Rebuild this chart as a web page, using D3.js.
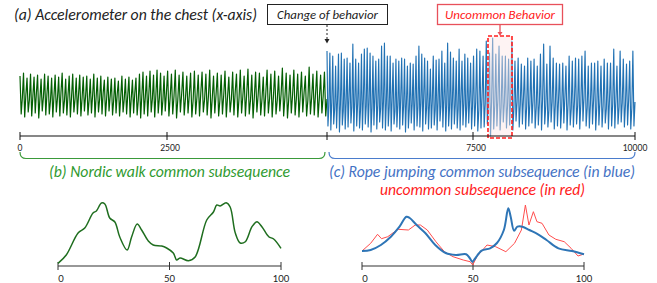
<!DOCTYPE html>
<html><head><meta charset="utf-8">
<script src="https://cdn.jsdelivr.net/npm/d3@7"></script>
<style>body{margin:0;background:#fff}svg{display:block}</style>
</head><body>
<svg id="c" width="657" height="283"></svg>
<script>
// ---------- DATA ----------
const topTicks = [0, 2500, 5000, 7500, 10000];
const topTickLabels = ["0", "2500", "", "7500", "10000"];
const subTicks = [0, 50, 100];

// Nordic walk (green) signal: per cycle peak / trough / middle value
const nordicPeaks = [
60,63,58,62,59,61,57,62,60,58,61,59,
63,57,60,62,58,61,59,60,57,62,58,60,
56,59,57,58,55,60,57,59,56,58,62,64,
60,65,61,66,63,60,65,62,66,61,64,60,
63,65,61,64,62,66,60,63,61,65,59,64,
62,66,60,67,61,64,63,59,66,62,65,60,
68,63,61,66,62,64,60,69,62,65,61,64];
const nordicTroughs = [
22,19,24,20,23,18,25,21,22,19,24,20,
23,21,19,24,22,20,25,21,23,19,24,22,
20,25,21,23,20,24,22,19,23,21,18,22,
20,24,19,23,21,25,20,22,18,24,21,23,
19,22,20,24,21,18,23,20,22,19,24,21,
19,23,20,22,18,24,21,20,23,19,22,25,
20,18,23,21,19,24,20,22,21,19,23,20];
const nordicMids = [
38,41,36,40,43,37,39,42,35,40,38,44,
36,41,39,37,42,38,40,36,41,39,37,43,
38,40,36,42,39,37,41,38,43,36,40,39,
42,37,41,38,36,43,39,40,37,42,38,41,
36,39,43,37,40,38,42,36,41,39,37,44,
38,40,42,36,39,41,37,43,38,40,36,42,
39,37,41,38,40,43,36,39,42,38,40,37];

// Rope jumping (blue) signal: per cycle peak / trough / middle value
const ropePeaks = [
85,83,80,70,82,83,77,78,73,92,77,73,82,87,88,83,80,75,77,90,93,80,80,73,
77,75,78,77,70,73,72,80,90,82,78,75,67,80,76,77,85,73,93,84,78,75,87,
75,82,78,73,80,87,85,80,95,83,98,82,90,80,80,77,95,75,78,72,70,78,75,77,70,
82,92,72,90,78,73,72,73,70,80,75,78,77,80,85,70,73,73,75,70,77,73,73,87,70,
85,77,72,75,85];
const ropeTroughs = [
10,6,12,8,4,11,7,9,13,5,
10,8,6,12,9,4,11,7,14,8,
6,10,5,12,9,7,11,4,8,13,
6,10,9,5,12,7,8,11,6,15,
9,5,10,7,12,8,6,11,9,13,
7,10,5,8,9,12,0,7,10,6,
14,8,11,6,15,9,12,7,10,13,
8,11,6,12,9,14,7,10,8,13,
6,11,9,12,7,15,10,8,12,6,
11,9,13,7,10,8,12,14,9,11,
7,10];
const ropeMids = [
30,34,27,36,31,25,33,38,29,35,
32,26,37,30,34,28,39,31,27,35,
33,29,36,25,31,38,30,34,27,32,
36,29,33,40,28,31,35,26,34,30,
37,32,28,35,31,27,39,33,29,36,
30,34,26,38,32,29,35,31,37,28,
33,30,36,27,34,31,38,29,32,35,
28,33,37,30,26,34,31,36,29,39,
32,27,35,30,33,38,28,31,36,29,
34,30,27,37,32,35,29,33,31,36,
28,34];

// (b) Nordic walk common subsequence
const nordicSubT = [0,3.7,9,12,15.7,17.2,19.5,21,23.2,25.5,27.7,31,33,35.5,37.5,40.5,42.7,46.5,48.7,51.7,53.2,54.7,58.5,61.5,66.7,69.7,71.2,72.7,75.4,77.2,79.5,81.7,84,87,89.2,91.5,94.5,96.7,100];
const nordicSubV = [2.7,11,33,38,53,55,63,62,48,44,29,16,29,42,36,25,21,20,18,13,6,8,5.3,9,46,54,61,60,63.3,59,33,23,24.3,39.3,44.3,39,29.3,27,17.7];

// (c) Rope jumping common subsequence (blue)
const ropeSubT = [0,3.9,8.5,13,16.9,20,21.5,24.6,28.5,33,37.7,42.3,46.9,48.5,49.7,50.8,53.9,57.7,60.8,63.9,65.9,67,68.5,70,72.3,75.4,79.3,83.1,88.5,94.6,100];
const ropeSubV = [15,16,21,29.3,39.3,49.3,48,41,33,21,13,11,11.7,8,4.3,7,15.3,17.7,23,36,57.7,49,35.3,39.3,39.3,36,31.7,26,17.7,15,11.7];

// uncommon subsequence (red)
const uncommonSubT = [0,3.9,7,8.8,11.6,14.7,16.3,20.9,24,26.3,29.4,33.3,37.1,41,45.6,48.7,49.9,51.7,56.3,60.2,64.8,68.7,71.8,73.6,75.2,77.2,78.8,81.1,84.2,87.3,91.1,94.2,97.3,100];
const uncommonSubV = [15,22.7,31.7,27.3,29.3,34.3,36.7,36,41,41,36,24.3,14.3,9.3,6,4.3,1,9.3,21,19.3,14.3,22.7,36,61,41,54.3,44.3,42.7,31,26.7,24.3,17.7,10,12];

// ---------- DRAW ----------
const svg = d3.select("#c");
const FONT = "Carlito, Calibri, Lato, 'Open Sans', sans-serif";
const GREEN = "#035f03", BLUE = "#2272b4";

function fit(sel, w) { sel.attr("textLength", w).attr("lengthAdjust", "spacingAndGlyphs"); return sel; }

// top scales
const xTop = d3.scaleLinear().domain(topTicks).range([20, 167, 327, 473, 635]);
const yTop = d3.scaleLinear().domain([0, 100]).range([136, 36]);

function buildSeries(p, t, m, t0, t1) {
  const vals = [];
  for (let i = 0; i < p.length; i++) { vals.push(p[i], t[i], m[i]); }
  return vals.map((v, j) => ({ t: t0 + (t1 - t0) * j / (vals.length - 1), v }));
}
const nordic = buildSeries(nordicPeaks, nordicTroughs, nordicMids, 0, 5000);
const rope = buildSeries(ropePeaks, ropeTroughs, ropeMids, 5000, 10000);
const lineTop = d3.line().x(d => xTop(d.t)).y(d => yTop(d.v));

svg.append("path").attr("d", lineTop(nordic)).attr("fill", "none")
  .attr("stroke", GREEN).attr("stroke-width", 1.2).attr("stroke-linejoin", "round");
svg.append("path").attr("d", lineTop(rope)).attr("fill", "none")
  .attr("stroke", BLUE).attr("stroke-width", 1.15).attr("stroke-linejoin", "round");

// uncommon highlight rectangle
svg.append("rect").attr("x", 488).attr("y", 36).attr("width", 24).attr("height", 102)
  .attr("fill", "rgba(252,228,228,0.45)").attr("stroke", "#ff2020")
  .attr("stroke-width", 1.6).attr("stroke-dasharray", "4,2");

// top axis
const gAx = svg.append("g").attr("transform", "translate(0,136)");
gAx.append("line").attr("x1", xTop(0)).attr("x2", xTop(10000)).attr("stroke", "#111").attr("stroke-width", 1.2);
gAx.selectAll("line.tk").data(topTicks).join("line").attr("class", "tk")
  .attr("x1", d => xTop(d)).attr("x2", d => xTop(d)).attr("y1", -4).attr("y2", 4)
  .attr("stroke", "#111").attr("stroke-width", 1);
gAx.selectAll("text").data(topTicks).join("text")
  .attr("x", d => xTop(d) + (d === 2500 || d === 7500 ? 3 : 0)).attr("y", 15)
  .attr("text-anchor", "middle").attr("font-family", "Lato, 'Open Sans', sans-serif")
  .attr("font-size", 8.5).attr("fill", "#222").text((d, i) => topTickLabels[i]);

// Title
fit(svg.append("text").attr("x", 14).attr("y", 20).attr("font-family", FONT)
  .attr("font-style", "italic").attr("font-size", 16).attr("fill", "#222")
  .text("(a) Accelerometer on the chest (x-axis)"), 243);

// Change of behavior box
svg.append("rect").attr("x", 267.5).attr("y", 4.5).attr("width", 120).attr("height", 20)
  .attr("fill", "#fff").attr("stroke", "#222").attr("stroke-width", 1);
fit(svg.append("text").attr("x", 277).attr("y", 19).attr("font-family", FONT)
  .attr("font-style", "italic").attr("font-size", 12.5).attr("fill", "#222")
  .text("Change of behavior"), 101);
svg.append("line").attr("x1", 327).attr("x2", 327).attr("y1", 25).attr("y2", 40)
  .attr("stroke", "#222").attr("stroke-width", 1).attr("stroke-dasharray", "2,2");
svg.append("path").attr("d", "M324.5,39 L329.5,39 L327,43.5 Z").attr("fill", "#222");

// Uncommon Behavior box
svg.append("rect").attr("x", 437.5).attr("y", 4.5).attr("width", 125).attr("height", 20)
  .attr("fill", "#fff").attr("stroke", "#e8505a").attr("stroke-width", 1.3);
fit(svg.append("text").attr("x", 445).attr("y", 19).attr("font-family", FONT)
  .attr("font-style", "italic").attr("font-size", 12.5).attr("fill", "#ff2020")
  .text("Uncommon Behavior"), 110);
svg.append("line").attr("x1", 500).attr("x2", 500).attr("y1", 25).attr("y2", 33)
  .attr("stroke", "#e8505a").attr("stroke-width", 1.3);
svg.append("path").attr("d", "M497.5,32 L502.5,32 L500,36 Z").attr("fill", "#e8505a");

// braces
function brace(x0, x1, col) {
  svg.append("path").attr("d", `M${x0},152 Q${x0},158.5 ${x0 + 6},158.5 L${x1 - 6},158.5 Q${x1},158.5 ${x1},152`)
    .attr("fill", "none").attr("stroke", col).attr("stroke-width", 1.2);
}
brace(20, 325, "#3a9a3a");
brace(329, 635, "#4a7ccc");

fit(svg.append("text").attr("x", 49).attr("y", 176.5).attr("font-family", FONT)
  .attr("font-style", "italic").attr("font-size", 16).attr("fill", "#2f9a2f")
  .text("(b) Nordic walk common subsequence"), 241);
fit(svg.append("text").attr("x", 329).attr("y", 176.5).attr("font-family", FONT)
  .attr("font-style", "italic").attr("font-size", 16).attr("fill", "#4472c4")
  .text("(c) Rope jumping common subsequence (in blue)"), 306);
fit(svg.append("text").attr("x", 380).attr("y", 195).attr("font-family", FONT)
  .attr("font-style", "italic").attr("font-size", 16).attr("fill", "#ff1a1a")
  .text("uncommon subsequence (in red)"), 205);

// sub charts
const ySub = d3.scaleLinear().domain([0, 70]).range([266, 196]);
function subAxis(x) {
  const g = svg.append("g").attr("transform", "translate(0,266)");
  g.append("line").attr("x1", x(0)).attr("x2", x(100)).attr("stroke", "#333").attr("stroke-width", 1.2);
  g.selectAll("line.tk").data(subTicks).join("line").attr("class", "tk")
    .attr("x1", d => x(d)).attr("x2", d => x(d)).attr("y1", -4).attr("y2", 4)
    .attr("stroke", "#333").attr("stroke-width", 1);
  g.selectAll("text").data(subTicks).join("text")
    .attr("x", d => x(d) + (d === 0 ? 3 : 0)).attr("y", 15.5)
    .attr("text-anchor", "middle").attr("font-family", "Lato, 'Open Sans', sans-serif")
    .attr("font-size", 9.5).attr("fill", "#222").text(d => d);
}
const xB = d3.scaleLinear().domain([0, 100]).range([58, 281]);
const xC = d3.scaleLinear().domain([0, 100]).range([362, 584]);
subAxis(xB); subAxis(xC);

function curve(x, T, V, col, w, c) {
  const pts = T.map((t, i) => [t, V[i]]);
  svg.append("path").attr("d", d3.line().x(d => x(d[0])).y(d => ySub(d[1])).curve(c)(pts))
    .attr("fill", "none").attr("stroke", col).attr("stroke-width", w).attr("stroke-linejoin", "round");
}
curve(xB, nordicSubT, nordicSubV, "#1f6e1f", 1.5, d3.curveCatmullRom);
curve(xC, uncommonSubT, uncommonSubV, "#ff4d4d", 1, d3.curveLinear);
curve(xC, ropeSubT, ropeSubV, "#2e75b6", 2, d3.curveCatmullRom);
</script>
</body></html>
